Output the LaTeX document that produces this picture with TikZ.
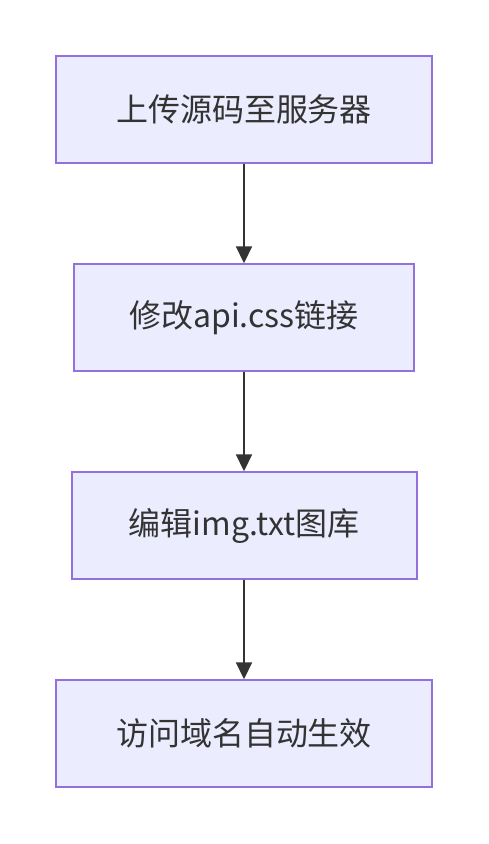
\documentclass[tikz,border=0pt]{standalone}
\usepackage{fontspec}
\setmainfont{Noto Sans CJK SC}
\usetikzlibrary{arrows.meta}
\definecolor{boxfill}{HTML}{ECECFF}
\definecolor{boxline}{HTML}{9370DB}
\definecolor{inkgray}{HTML}{333333}
\begin{document}
\begin{tikzpicture}[
    stepbox/.style={
        rectangle,
        minimum height=107pt,
        draw=boxline,
        fill=boxfill,
        line width=2pt,
        text=inkgray,
        font=\fontsize{32pt}{38pt}\selectfont
    },
    flow/.style={-{Triangle[length=17pt,width=16pt]}, line width=1.8pt, draw=inkgray}
]
\useasboundingbox (0,0) rectangle (488pt,-844pt);

\node[stepbox, minimum width=376pt] (upload) at (244pt,-109.8pt) {上传源码至服务器};
\node[stepbox, minimum width=340pt] (css) at (244pt,-317.8pt) {修改api.css链接};
\node[stepbox, minimum width=345pt] (img) at (244pt,-525.8pt) {编辑img.txt图库};
\node[stepbox, minimum width=376pt] (visit) at (244pt,-733.8pt) {访问域名自动生效};

% Steps
\draw[flow] (upload) -- (css);
\draw[flow] (css) -- (img);
\draw[flow] (img) -- (visit);

\end{tikzpicture}
\end{document}
